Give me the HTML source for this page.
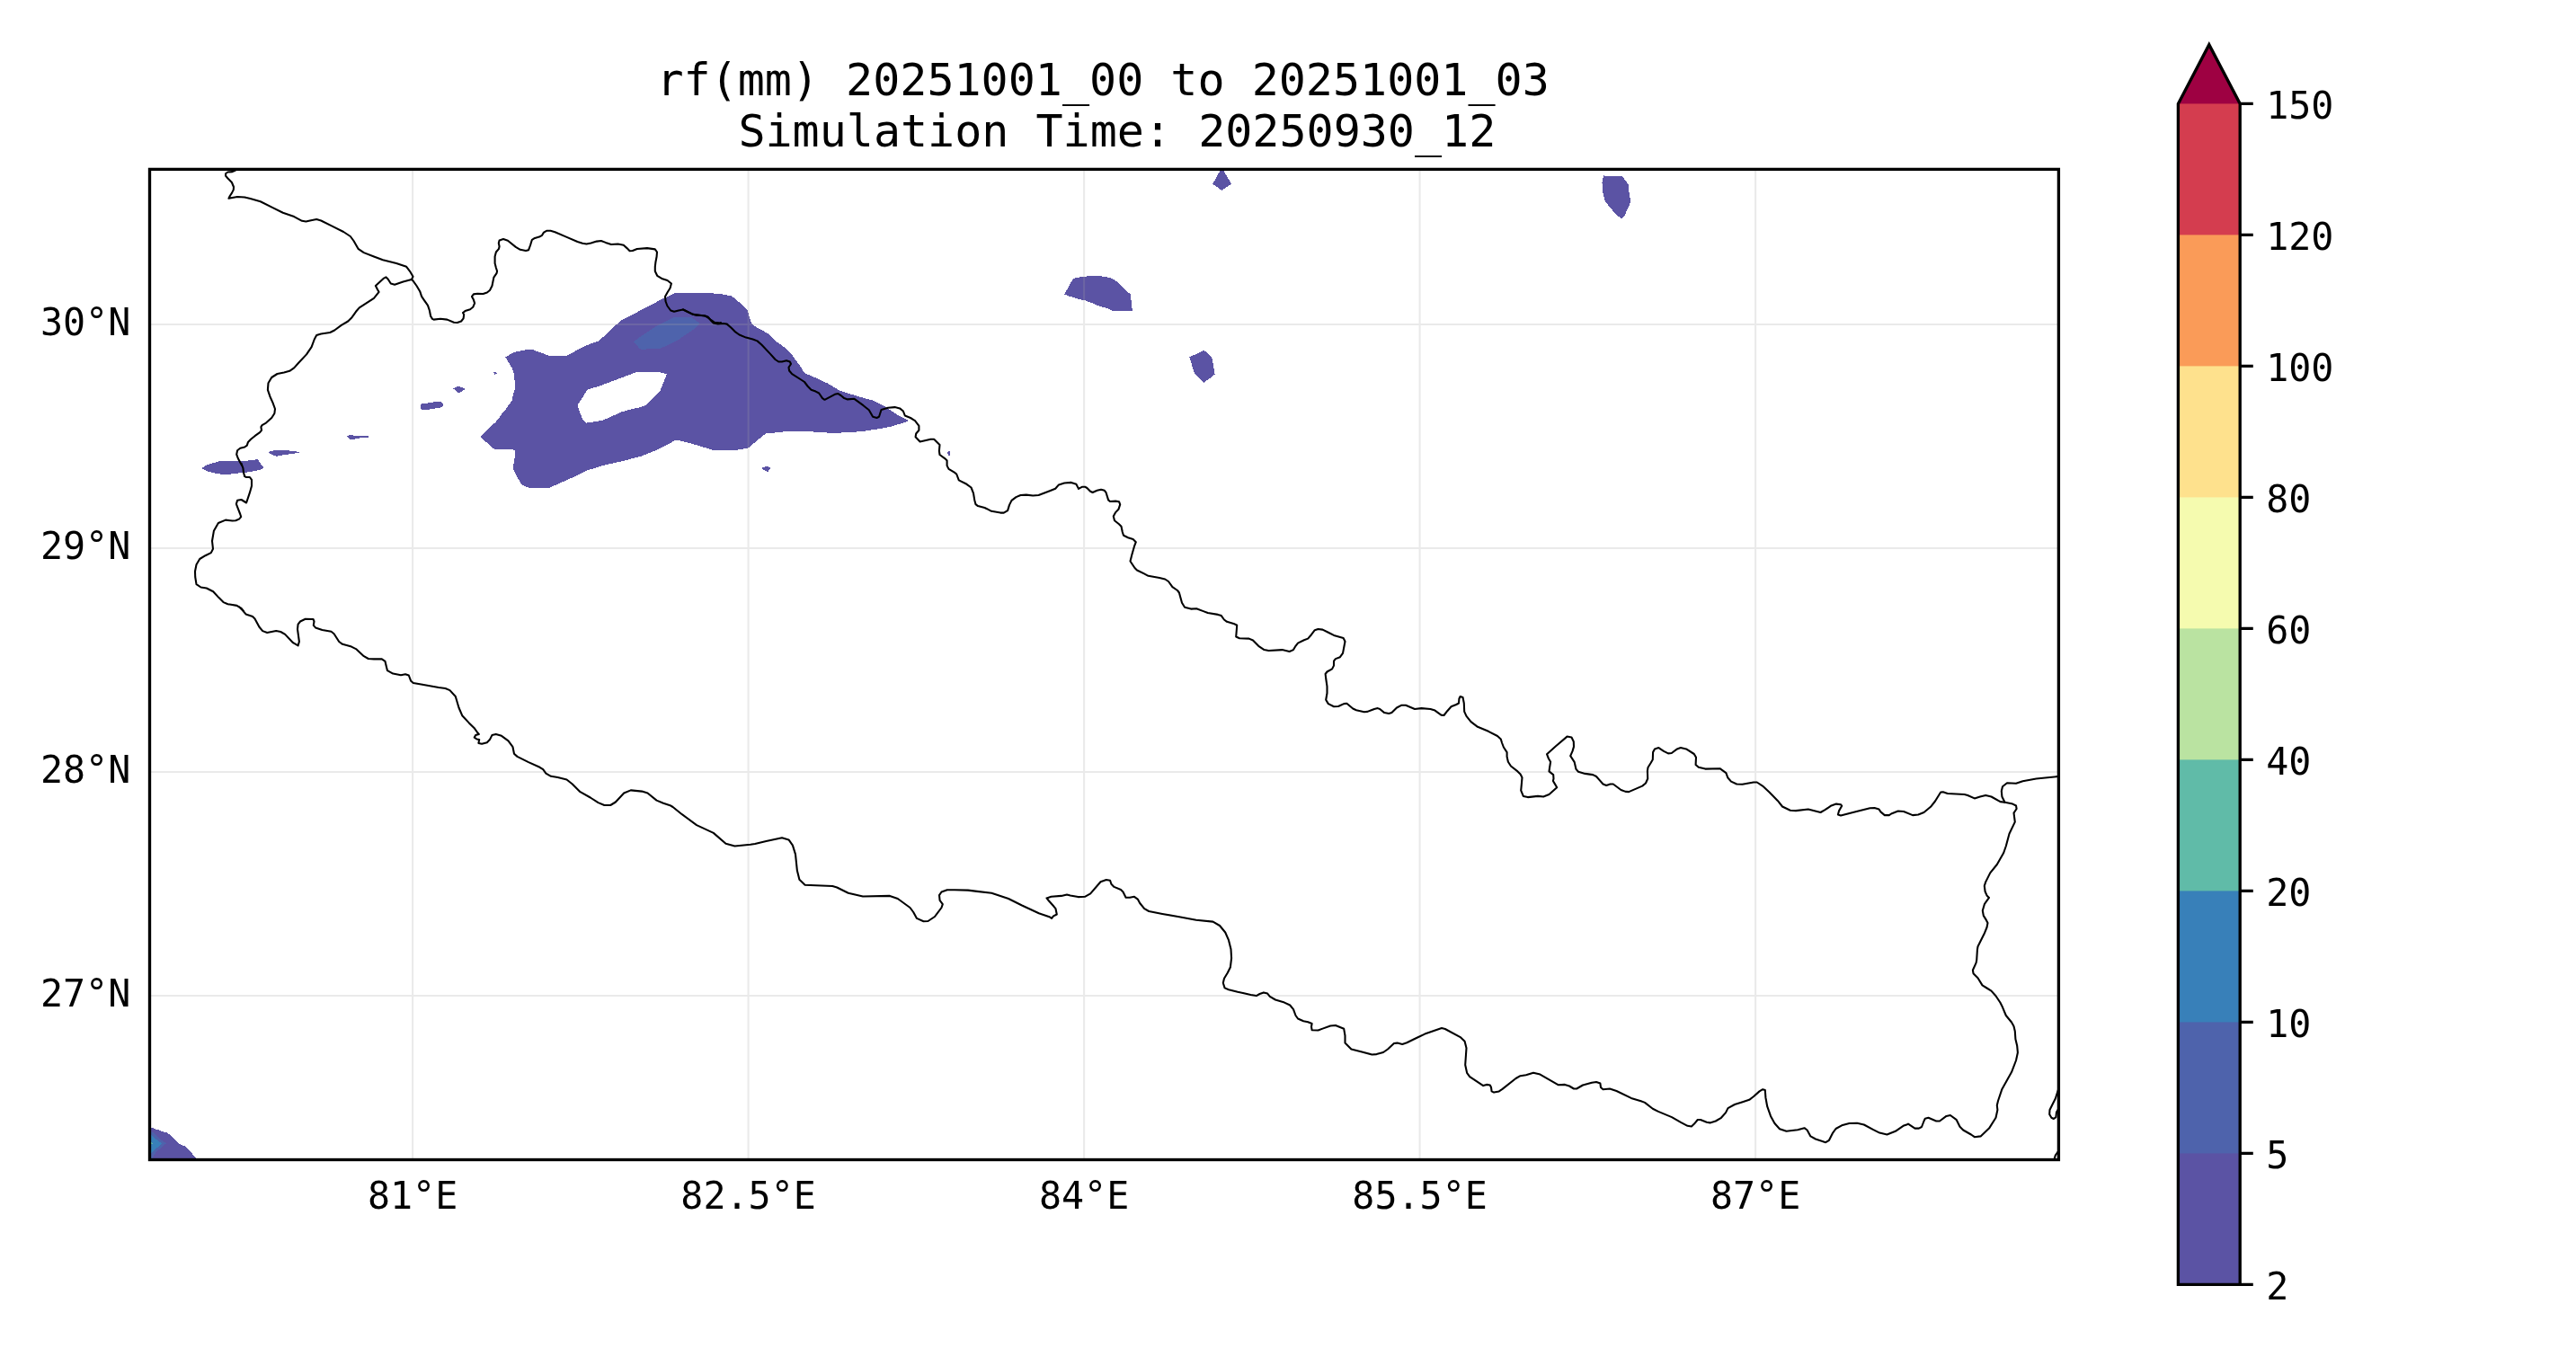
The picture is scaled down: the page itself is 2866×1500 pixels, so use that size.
<!DOCTYPE html>
<html><head><meta charset="utf-8"><title>rf(mm) 20251001_00 to 20251001_03</title><style>html,body{margin:0;padding:0;background:#fff;}svg{display:block;}</style></head><body>
<svg xmlns="http://www.w3.org/2000/svg" width="2866" height="1500" viewBox="0 0 2866 1500" style="will-change:transform">
<rect width="100%" height="100%" fill="#fff"/>
<defs><clipPath id="ax"><rect x="166.5" y="188.4" width="2123.9" height="1102.1"/></clipPath></defs>
<g clip-path="url(#ax)">
<path d="M562.5 397.5 L571.2 392.2 L578.8 390.6 L585 389.4 L590 388.5 L592.5 389 L611.2 396 L631.2 395.6 L642.5 389.4 L652.5 384.4 L658.8 381.9 L666.2 379.4 L673.8 372.5 L685 361.9 L692.5 355.6 L703.8 350 L736.2 333 L751.2 326.1 L788.8 326.1 L802.5 327.2 L810 328.8 L813.8 329.4 L817.5 331.9 L825 338.8 L831.2 344.4 L833.8 352.5 L836.2 360 L840 363.1 L851.2 369.4 L856.2 372.5 L863.8 380 L875 388.1 L881.2 395 L886.2 401.9 L891.2 408.8 L895 415 L903.8 418.8 L920 426.2 L935 435 L955 441.2 L971.2 445.6 L985 452.5 L997.5 461.2 L1011.2 468.1 L1008 469.4 L1000.5 471.9 L990.5 474.8 L978 477.2 L959.2 480 L944.2 481.2 L926.8 481.9 L910.5 481 L899.2 480 L878 479.8 L852 482.5 L842.5 490 L832.5 498.5 L820 500.6 L792.5 500.6 L767.5 493.1 L755 490 L751.2 490 L732.5 500 L713.8 507.5 L692.5 513.1 L670 518.1 L652.5 523.8 L638.8 530.6 L626.2 536.2 L611.9 542.5 L588.1 542.5 L581.2 540 L579.4 537.5 L575 530 L571.2 521.9 L571.2 517.5 L572.5 510 L573.1 501.9 L570.6 499.8 L550 499.8 L540 491.2 L534.4 486 L541.2 478.8 L551.2 470 L555 465.6 L558.8 460 L562.5 455.6 L567.5 448.8 L570 445 L570.6 440 L573.1 432.5 L572.5 422.5 L571.9 416.2 L570 410 L566.2 403.8 Z M652.5 435 L653.8 433.5 L667.5 429.4 L677.5 425.6 L692.5 420 L708.8 413.8 L732.5 413.8 L741.9 416.2 L737.5 427.5 L733.8 436.2 L727.5 442.5 L718.8 450.6 L712.5 453.1 L701.2 455.6 L691.2 458.5 L671.2 467.5 L657.5 470 L652.5 470.6 L648.1 466.9 L642.5 451.2 L643.8 448.8 L648.8 441.2 Z" fill="#5b53a4" fill-rule="evenodd" shape-rendering="crispEdges"/>
<path d="M705 380 L713.8 373.8 L728.8 363.8 L738.8 358.8 L750 353.1 L770 353.5 L778.8 360 L772.5 366.2 L762.5 372.5 L753.8 378.8 L741.2 385 L735 387.5 L713.8 388.8 L711.2 387.5 Z" fill="#4e63ac" fill-rule="evenodd" shape-rendering="crispEdges"/>
<path d="M549.4 414.4 L551.2 414 L553.1 415.2 L550.6 416.9 Z" fill="#5b53a4" fill-rule="evenodd" shape-rendering="crispEdges"/>
<path d="M504.4 432.5 L508.8 430.2 L512.5 430.6 L518.1 432.8 L510.6 437.5 Z" fill="#5b53a4" fill-rule="evenodd" shape-rendering="crispEdges"/>
<path d="M385.4 485 L389.8 484 L396 485 L409.8 485.2 L409.8 486.5 L399.8 487.5 L389.8 489.4 Z" fill="#5b53a4" fill-rule="evenodd" shape-rendering="crispEdges"/>
<path d="M298.5 502.8 L304.8 501.2 L319.8 501.2 L334.8 503.1 L331 504 L316 506.2 L307.2 507.8 L301 505 Z" fill="#5b53a4" fill-rule="evenodd" shape-rendering="crispEdges"/>
<path d="M229.8 517.5 L238.5 514.8 L247.2 512.5 L263.5 513.1 L272.2 513.1 L278.5 512.2 L286.6 511.2 L293.5 520.8 L289.8 522.6 L278.5 525.1 L266 526.4 L256 527.6 L246 527.6 L239.8 526.8 L231 524.5 L224.1 521 Z" fill="#5b53a4" fill-rule="evenodd" shape-rendering="crispEdges"/>
<path d="M1055 502 L1057 502 L1057 507 L1055 507 L1055 505 L1054 505 L1054 503 L1055 503 Z" fill="#5b53a4" fill-rule="evenodd" shape-rendering="crispEdges"/>
<path d="M1359.4 186.6 L1349.1 204.8 L1359.4 211.8 L1370.1 204.8 Z" fill="#5b53a4" fill-rule="evenodd" shape-rendering="crispEdges"/>
<path d="M1184.1 327.5 L1188.8 319.4 L1193.4 310.9 L1196.2 309.4 L1201.2 308.4 L1206.9 307.8 L1214.4 306.6 L1221.2 306.6 L1226.2 307.5 L1231.9 308.4 L1236.9 309.7 L1241.9 312.8 L1248.1 319.1 L1253.1 324.1 L1257.5 327.2 L1258.1 333.8 L1258.8 334.4 L1259.4 341.2 L1259.7 345.6 L1237.5 345.6 L1232.5 343.4 L1223.1 340.6 L1215.6 337.5 L1207.5 334.4 L1201.2 333.1 L1195 331.2 L1188.1 329.1 Z" fill="#5b53a4" fill-rule="evenodd" shape-rendering="crispEdges"/>
<path d="M1323.1 397.5 L1325.2 396.4 L1327.4 395.4 L1330.2 394.3 L1332.4 393.2 L1334.3 392.3 L1336.2 391.3 L1339 390.1 L1341.5 391.2 L1344.7 394.5 L1348.4 398.2 L1348.9 402 L1350 406.1 L1350.6 411.1 L1351.6 416.6 L1346.2 420.8 L1340.9 424.5 L1339.5 425.6 L1329.2 415.4 L1328 412.6 L1327 409.4 L1326.1 406.3 L1325.2 402.8 L1324.2 400 Z" fill="#5b53a4" fill-rule="evenodd" shape-rendering="crispEdges"/>
<path d="M1784.3 195.1 L1785.9 196 L1804.4 196 L1806.7 198.6 L1809.5 202.1 L1811.9 205.6 L1812.1 211.2 L1813 216.4 L1813.7 221.5 L1814.7 222.9 L1813.5 225.7 L1811.9 230.4 L1809.5 235.5 L1807.2 240.4 L1805.3 242.5 L1803.5 242.5 L1800.2 240.7 L1796 236.5 L1792.7 232.3 L1789 228.1 L1785.7 223.4 L1784.3 218.7 L1783.4 214 L1783.1 208 L1782.4 203.3 L1783.4 198.1 Z" fill="#5b53a4" fill-rule="evenodd" shape-rendering="crispEdges"/>
<path d="M468.2 450.6 L469.3 449.3 L476.3 448.5 L483.3 447.3 L490.5 447.3 L491.9 448.5 L492.8 449.6 L492.8 451.5 L491.7 452.6 L489.6 453.5 L485.6 454.3 L479.6 455.2 L474.4 456.4 L469.3 456.5 L468.3 454.5 Z" fill="#5b53a4" fill-rule="evenodd" shape-rendering="crispEdges"/>
<path d="M848.1 520.4 L851.2 519.3 L854.6 519.3 L856.8 520.5 L856.7 521.8 L855.5 522.7 L854.6 524.6 L853.4 524.6 L851.7 523.6 L849.5 522.6 L848.1 521.7 Z" fill="#5b53a4" fill-rule="evenodd" shape-rendering="crispEdges"/>
<path d="M160 1255.1 L168 1255.1 L170.6 1255.3 L173.5 1256.5 L176.7 1257.5 L179.6 1258.6 L182.8 1259.6 L185.7 1260.4 L188.6 1262.2 L191.8 1265.3 L195.5 1269.2 L199.6 1273 L202.8 1274.3 L205.7 1275.5 L209 1278.8 L212.6 1282.4 L215.1 1285.3 L217.9 1288.8 L221.2 1293 L160 1293 Z" fill="#5b53a4" fill-rule="evenodd" shape-rendering="crispEdges"/>
<path d="M160 1258.4 L168 1258.4 L173.5 1262.8 L179.6 1268.6 L184.9 1272.2 L179.6 1276.7 L173.5 1282 L169.4 1288.8 L168.2 1293 L160 1293 Z" fill="#4e63ac" fill-rule="evenodd" shape-rendering="crispEdges"/>
<path d="M160 1262.8 L168 1262.8 L173.5 1267.7 L180 1272.4 L173.5 1278.4 L168 1283.9 L160 1283.9 Z" fill="#3880b9" fill-rule="evenodd" shape-rendering="crispEdges"/>
<path d="M160 1271 L168 1271 L169.8 1272.4 L168 1273.9 L160 1273.9 Z" fill="#60bba8" fill-rule="evenodd" shape-rendering="crispEdges"/>
</g>
<path d="M459.1 188.4 V1290.5 M832.6 188.4 V1290.5 M1206.1 188.4 V1290.5 M1579.6 188.4 V1290.5 M1953.1 188.4 V1290.5 M166.5 1108 H2290.4 M166.5 859 H2290.4 M166.5 610 H2290.4 M166.5 361 H2290.4" stroke="#a6a6a6" stroke-opacity="0.23" stroke-width="2.08" fill="none"/>
<g clip-path="url(#ax)" fill="none" stroke="#000" stroke-width="2.08" stroke-linejoin="round" stroke-linecap="round">
<path d="M261.6 189 L261.6 189.9 L258.5 191.1 L253.5 191.5 L251.2 193 L251 195.5 L253.5 198.6 L257.9 203 L260 208 L259.8 211.1 L257.9 214.9 L255.8 218 L254.5 220.8 L258.5 220 L264.1 219 L272.2 219.5 L278.5 221.1 L289.8 224.2 L303.5 231.1 L314.8 236.8 L327.2 241.1 L336 245.8 L340.4 246.5 L346 245.2 L352.2 244 L357.2 245.5 L368.5 251.1 L382.2 258 L389.8 263 L393.5 268 L398.5 276.8 L404.8 281.1 L416 285.5 L426 289.2 L441 293 L452.2 296.8 L456 301.8 L459.5 307.8 L457.9 311.1"/>
<path d="M457.9 311.1 L459.1 311.8 L463.5 318 L467.2 324.2 L469.1 329.9 L471.6 333.6 L476 339.9 L477.9 345.5 L479.1 351.8 L481 354.9 L482.5 355.6 L490 354.8 L497.5 355.6 L505 358.8 L508.8 359 L513.1 357.5 L515.6 354.4 L516.2 350 L515 348 L517.5 346.1 L523.1 344.2 L526.2 341.8 L528.1 337.4 L526.9 333.6 L525 329.9 L526.9 327.4 L531.2 326.8 L537.5 327 L541.9 325.5 L545 323 L547.5 318 L548.5 313 L549.4 308.6 L552.5 304.2 L553.1 301.8 L551.9 298 L550.6 293 L550.6 285.5 L551.9 280.5 L555 276.8 L555.6 274.2 L554.8 270.5 L555.6 267.4 L560 266.1 L565 267.8 L573.8 274.9 L578.8 277.8 L585 279 L588.1 278.2 L590 273 L591.9 266.8 L595 264.9 L600 263.6 L603.1 261.8 L605 258.6 L608.1 256.8 L612.5 256.8 L617.5 258.2 L630 263.6 L642.5 269 L648.1 270.8 L652.5 271.5 L657.5 270.5 L663.8 268.6 L668.8 268 L673.8 269.9 L680 272 L687.5 271.5 L693.8 272.8 L697.5 276.1 L700.6 279.2 L703.8 279 L708.8 277 L720 276.1 L728.8 277.4 L731 280.5 L730.6 285.5 L729.4 291.8 L728.8 296.8 L728.8 301.8 L731.2 306.8 L736.2 309.9 L742.5 312 L746.9 315.5 L745.6 320.5 L742.5 325.5 L740 329.9 L740.6 335.5 L742.5 340.5 L746.2 345.5 L750 346.8 L755 345.5 L760 344.5 L765 347 L771.2 349.9 L777.5 350.5 L785 351.8 L788.8 354.2 L791.2 356.2 L795 358.8 L800 359.4 L802 359"/>
<path d="M457.9 311.1 L448.5 313.6 L439.1 316.8 L434.8 315.5 L431.6 310.5 L429.5 308.4 L426.6 309.9 L417.9 318 L419.8 321.8 L421.6 324.9 L416 331.8 L399.8 342.4 L396 346.8 L391 353.8 L387.2 357.5 L379.8 361.9 L372.2 367.5 L367.2 370 L357.2 371.5 L352.2 373.1 L349.8 377.5 L346.6 386.2 L341 394.4 L332.2 403.8 L327.2 409.4 L322.2 412.8 L316 414.4 L308.5 416 L302.2 420 L298.5 426.2 L297.9 433.8 L300.4 441.2 L303.5 448.1 L306 455 L305.4 460 L302.2 465 L296 470.6 L291.6 473.1 L290.4 475 L291 478.8 L289.1 481.2 L283.5 485.2 L279.1 488.8 L276 491.9 L274.8 495.6 L272.2 497.5 L267.2 498.8 L264.1 501.2 L263.2 505.6 L264.8 510 L267.2 514.4 L269.1 518 L268.5 515.8 L270.4 520.8 L271 525.8 L272.2 530.1 L274.1 531 L277.9 531 L280 533.9 L280 540.8 L277.9 548.2 L274.1 559.5 L268.5 556 L264.1 556.8 L262.9 560.8 L264.8 565.8 L267.2 572 L268.2 575.1 L266 577.6 L262.2 579.2 L258.5 579.5 L251 578.6 L242.9 582 L237.9 590.8 L236 602 L237 610.8 L234.8 615.1 L228.5 618.2 L222.2 622 L218.5 628.2 L217 635.8 L217.2 642 L218.5 650.1 L223.5 653.5 L229.8 654.5 L237.2 658.2 L243.5 665.1 L248.5 670.1 L253.5 672.2 L263.5 673.9 L268.5 677 L271 680 L266 675.2 L269.8 679 L273.5 683.4 L281 685.9 L283.5 688.4 L288.5 697.8 L292.2 702.1 L297.2 704 L307.2 702.1 L312.2 703 L317.2 705.9 L326 715.2 L331.6 718.4 L332.9 714 L331 700.2 L331.6 694.6 L334.1 691.5 L339.8 688.8 L348.5 689 L349.5 691.5 L348.8 695.9 L351 698.4 L358.5 700.9 L368.5 702.8 L371.6 705.2 L377.2 714 L381 716.8 L391 719.6 L396 722.1 L404.8 730.2 L409.8 733 L416 733.4 L424.8 733.4 L428.5 735.9 L429.8 741.5 L431 746.2 L437.2 749.6 L446 751.2 L451 750.2 L454.8 751.5 L457.2 757.8 L459.8 760 L468.5 761.5 L488 765 L495.5 766 L500.5 768.1 L506.8 775 L510.5 787.5 L514.2 796.2 L521.8 804.4 L528 810.6 L531.1 815 L532.8 816.9 L529.2 818.1 L527.8 820.6 L530.5 822.5 L533.2 823.1 L532.4 826.9 L536.1 827.8 L541.8 826.2 L544.9 823.1 L547.4 818.1 L551.8 816.9 L558 818.8 L565.5 824.4 L570.5 831.2 L572 838.8 L575.5 841.9 L588 848.1 L600.5 853.8 L604.2 856.2 L607.4 860.6 L613 863.8 L620.5 865 L630.5 867.5 L636.8 872.5 L645.5 881.2 L656.8 887.5 L665.5 893.1 L672.4 896 L679.2 896 L684.9 892.5 L694.2 882.5 L701.8 879.4 L714.2 880.6 L720.5 882.5 L730.5 890.6 L738 893.8 L745.5 896.2 L748.6 898 L758.8 906.2 L775 918.1 L793.8 926.9 L807.5 938.8 L817.5 941.5 L835 939.8 L840 939 L852.5 936 L870 932.2 L877.5 934.4 L881.9 940.6 L885 950.6 L886.9 968.8 L889.4 978.8 L895.6 984.8 L926.2 986 L931.2 987.5 L943.8 993.8 L960 997.5 L990 996.9 L998.8 1000 L1012.5 1010 L1016.2 1015 L1020 1021.9 L1027.5 1025.2 L1032.5 1025 L1040 1020 L1047.5 1010 L1048.8 1006.2 L1045.6 1001.9 L1045 996.2 L1047.5 992.5 L1053.8 990.2 L1062 990.2 L1077 990.6 L1087 991.9 L1103.2 993.8 L1122 1000 L1137 1007.5 L1155.8 1016.2 L1168.2 1020.6 L1170.1 1021.9 L1172 1019.4 L1175.8 1017.5 L1174.5 1011.2 L1172.6 1008.8 L1167 1002.5 L1164.5 999.4 L1169.5 997.8 L1180.8 996.9 L1187 995.6 L1190.8 996.5 L1199.5 998.1 L1207 997.8 L1213.2 994.4 L1224.5 981.2 L1230.8 979 L1235.1 979.8 L1236.4 983.8 L1239.5 986.9 L1247 990 L1249.5 992.5 L1252.6 998.8 L1257 998.8 L1262 997.8 L1265.8 1000.6 L1268.2 1005 L1273.2 1011.2 L1278.2 1014 L1293.2 1016.9 L1312 1020.2 L1330.8 1023.8 L1349.5 1025.6 L1357 1030 L1363.2 1037.5 L1367 1046.2 L1369.5 1056.2 L1370.1 1066.2 L1368.9 1076.2 L1365.8 1082.5 L1362 1088.8 L1360.8 1093.8 L1362.6 1099.4 L1367 1101.2 L1377 1103.8 L1384 1105.2 L1391.5 1106.9 L1397.8 1108.1 L1401.5 1106 L1405.9 1104.4 L1410.2 1105.6 L1412.8 1108.8 L1419 1112.5 L1429 1115.6 L1435.2 1118.5 L1439 1123.1 L1441.5 1130 L1444 1133.5 L1450.2 1136.2 L1455.2 1137.2 L1459.6 1139 L1459 1142.5 L1459.6 1146.2 L1466.5 1146.5 L1471.5 1144.6 L1480.2 1141.5 L1485.9 1141 L1495.2 1144.8 L1496.5 1152.5 L1496.5 1160.6 L1503.4 1167.5 L1515.2 1170.6 L1526.5 1173.5 L1531.5 1173.1 L1539 1171 L1544 1167.5 L1550.9 1161 L1554.6 1160.6 L1560.2 1161.9 L1565.2 1160.2 L1576.5 1154.8 L1585.2 1150.6 L1604 1144 L1607.8 1145 L1625.2 1154.4 L1629.6 1158.8 L1631.5 1166.2 L1630.2 1185 L1632.1 1193.8 L1635.2 1198.1 L1650.2 1208.1 L1654 1206.9 L1657.8 1207.5 L1659 1210 L1659.6 1214.4 L1662.1 1215.6 L1667.8 1214.4 L1671.5 1211.9 L1686.5 1200 L1691.5 1197.2 L1697.8 1196.2 L1706 1193.8 L1713.5 1195.6 L1722.2 1200.6 L1733.5 1207.2 L1741 1206.9 L1746 1208.5 L1751 1211.5 L1754.1 1211.5 L1761 1207.5 L1771 1204.8 L1776 1204 L1780.4 1205.6 L1781 1210 L1783.5 1212.2 L1791 1211.5 L1798.5 1214 L1814.8 1221.9 L1824.8 1225 L1825 1225 L1830 1226.9 L1838.8 1233.8 L1845 1236.9 L1860 1243.1 L1870 1248.8 L1877.5 1252.8 L1881.9 1253.5 L1885 1250.6 L1888.8 1246 L1891.9 1246 L1898.8 1248.8 L1902.5 1249.4 L1908.8 1247.5 L1915 1243.8 L1920 1238.1 L1922.5 1233.1 L1930 1229 L1938.8 1226.2 L1946.2 1223.8 L1951.2 1220 L1957.5 1214.4 L1961.2 1212.2 L1963.8 1213.1 L1964.4 1221.2 L1966.2 1231.2 L1970 1241.9 L1974.4 1250 L1980 1256.2 L1987.5 1258.8 L2000 1257.2 L2007.5 1255.2 L2010.6 1257.5 L2014.4 1264.4 L2020 1267.5 L2031.2 1271.2 L2035 1268.8 L2038.8 1261.2 L2042.5 1256 L2050 1251.9 L2057.5 1250 L2066.2 1249.8 L2073.8 1251.5 L2083.8 1256.9 L2091.2 1260.6 L2099.4 1262.5 L2108.8 1258.8 L2117.5 1252.8 L2122 1251.2 L2123 1250.6 L2130.5 1255.6 L2134.9 1255.6 L2138 1254 L2140.5 1247.5 L2141.8 1244.8 L2145.5 1243.8 L2154.2 1247.5 L2158 1247.5 L2165.5 1241.9 L2169.9 1241 L2176.8 1246.2 L2180.5 1253.8 L2184.2 1257.5 L2193 1262.5 L2196.8 1265.2 L2203.6 1264.4 L2213 1255.6 L2220.5 1243.8 L2222.4 1235 L2221.8 1230 L2223 1225 L2227.4 1211.9 L2238 1193.1 L2243 1180 L2244.9 1171.2 L2244.2 1163.8 L2242.4 1156.2 L2241.8 1147.5 L2240.5 1141.9 L2238 1137.5 L2231.8 1130 L2228 1120.8 L2225.5 1115.8 L2220.5 1108.2 L2215.5 1102.6 L2210.5 1099.5 L2205.5 1096.4 L2200.5 1088.2 L2195.5 1083.2 L2194.9 1079.5 L2198.6 1071.4 L2199.2 1068.2 L2199.9 1057 L2200.5 1053.2 L2208 1038.2 L2210.5 1032 L2211.5 1027 L2209.9 1023.9 L2206.8 1018.9 L2205.8 1013.2 L2208 1005.8 L2209.9 1003.2 L2213 998.9 L2210.5 996.4 L2208.6 992 L2207.8 985.8 L2209.2 981.4 L2214.2 971.4 L2221.8 962 L2229.2 949 L2231.8 941.5 L2235.5 927.8 L2241.8 914.6 L2240.5 904.6 L2243.6 900 L2243 896.5 L2239.2 894.6 L2230.5 892.8"/>
<path d="M2230.5 892.8 L2225.5 892.1 L2215.5 886.5 L2209.2 885 L2203 886.5 L2196.8 888.4 L2189.2 885 L2185.5 884 L2166.8 883 L2161.8 881.2 L2159.2 881.5 L2153 891.5 L2148 897.8 L2140.5 904 L2134.2 906.5 L2128 907.1 L2118 903 L2111.8 902.5 L2104.2 905.5 L2101.8 907.1 L2096.8 907.1 L2092.4 903.4 L2090.5 900.5 L2085.5 899 L2080.5 899.2 L2065.5 903 L2048 907.5 L2044.9 906.5 L2046.1 902.1 L2049.2 896.8 L2048 895.2 L2043 894.6 L2036.8 896.8 L2030.5 901.2 L2025.5 904 L2011.8 900.5 L1998 902.1 L1991.8 901.8 L1983 897.5 L1978 891.2 L1968.5 881.5 L1961 874.6 L1954.8 870.5 L1951 870.5 L1938.5 872.8 L1932.2 872.5 L1926 869.6 L1922.2 865.2 L1920.4 860.2 L1913.5 855.2 L1897.2 855.6 L1889.8 853.8 L1886.6 850.9 L1887 842.8 L1884.8 839 L1876 833.4 L1869.8 832.1 L1866 833.4 L1859.8 838 L1856 838.4 L1851 835.9 L1845.4 832.1 L1841 833.4 L1839.1 837.1 L1838.8 845.2 L1836.6 849 L1833.5 854 L1832.9 857.8 L1833.2 866.5 L1831 871.5 L1827.2 874.6 L1812.2 881.1 L1808.5 880.9 L1803.5 879 L1794.8 872.5 L1791.6 872.5 L1787.2 874 L1783.5 872.5 L1776 864 L1772.2 862.1 L1763.5 860.9 L1756 858.8 L1753.5 855.9 L1751.6 847.8 L1747.2 841.2 L1749.5 835.9 L1751 830.9 L1750.8 825.2 L1748.5 820.5 L1743.5 819.6 L1731 830.2 L1721 839.2 L1722.9 844 L1725.1 847.8 L1724.1 854 L1723.5 858.4 L1728.2 862.1 L1728.5 866.5 L1727.9 869 L1729.8 872.1 L1732.2 876.2 L1723.5 884 L1717.2 886.5 L1711 885.9 L1699.8 887.1 L1694.8 885.9 L1692.2 879.6 L1692.9 872.1 L1693.5 865.2 L1691.6 861.5 L1688.5 858.4 L1681 852.5 L1677.9 847.8 L1676.6 842.1 L1676.6 837.1 L1672.9 831.5 L1671 826.5 L1669.8 822.5 L1666 819 L1656 813.8 L1644 808.8 L1636.5 803.1 L1631.5 796.9 L1629.2 791.9 L1628.8 782.5 L1627.5 776 L1624.6 775 L1623.4 777.5 L1623 782.5 L1620.2 784 L1614.6 786.2 L1610.2 791.2 L1606.5 796 L1603.4 795.6 L1596.5 790.6 L1591.5 789 L1581.5 788.1 L1574 789 L1564 784.8 L1559 784.8 L1554 787.5 L1548.4 793.1 L1545.2 794 L1540.2 793.1 L1535.2 789 L1532.8 788.1 L1529 789 L1521.5 791.9 L1517.8 792.2 L1509 790.2 L1505.2 788.5 L1498.4 782.8 L1495.2 783.1 L1489 786 L1484 786.2 L1477.8 783.1 L1475.2 778.8 L1476.5 771.2 L1476.5 763.8 L1475.2 755 L1474.6 750 L1476.5 747.5 L1482.1 744.4 L1484 740.6 L1484 735.6 L1485.9 733.1 L1490.9 731.2 L1494 726.9 L1496.5 713.8 L1494.6 710 L1484 706.9 L1477.8 703.8 L1471.5 700.6 L1466.5 700 L1462.8 701.2 L1459 706.2 L1455.2 710.6 L1450.9 712.2 L1444 715.6 L1441.5 718.8 L1439 723.1 L1434.6 725 L1426.5 723.1 L1411.5 724 L1406.5 723.1 L1400.2 718.8 L1394 712.5 L1389.6 710.6 L1379 710.2 L1375.2 708.5 L1375.9 700 L1376.2 695.8 L1372.5 693.9 L1365 691.8 L1361.9 689.5 L1358.8 685.1 L1355 683.9 L1343.8 682 L1338.8 680.1 L1331.2 677.2 L1325 677.6 L1318.1 675.8 L1315 670.8 L1311.9 659.5 L1310 657 L1304.4 653.2 L1300 647 L1296.2 644.5 L1290 643 L1277.5 640.8 L1272.5 638.2 L1265 634.5 L1262.5 632 L1257.5 624.5 L1259.4 617 L1261.9 608.2 L1263.8 603.2 L1260.6 600.1 L1255 598.2 L1250 595.8 L1248.8 592 L1247.5 585.8 L1245 583.2 L1240 579.2 L1238.8 574.5 L1241.2 570.1 L1244.4 566.8 L1246.2 561.4 L1245 558.2 L1241.2 557.6 L1235 558 L1233.1 556.4 L1230.6 548.2 L1228.8 545.8 L1225 544.8 L1220.6 545.8 L1215.6 548 L1213.1 546.8 L1209.4 543 L1207.5 541.8 L1203.8 541.8 L1200 543.9 L1197.4 538.8 L1191.8 536.9 L1184.2 537.5 L1178 539.4 L1174.2 543.8 L1168 546.2 L1155.5 551 L1149.2 551.5 L1141.8 550.6 L1135.5 551 L1130.5 553.1 L1125.5 556.9 L1123 561.9 L1121.1 568.1 L1116.8 570.6 L1113 570.6 L1103 568.8 L1098 566.2 L1095.5 565 L1088 563.1 L1085.5 561.2 L1084.2 556.2 L1083 548.8 L1080.5 542.5 L1075.5 538.8 L1066.8 534.4 L1064.2 527.5 L1061.8 525.6 L1055.5 521.9 L1053.6 518.1 L1053.6 512.5 L1051.8 510.6 L1045.5 506 L1044.9 501.9 L1045.5 495 L1039.2 488.8 L1035.5 488.8 L1023.6 491.5 L1018.6 486.2 L1019.2 482.5 L1022.4 478.8 L1022.4 473.8 L1018 468.1 L1013 465 L1006.8 462.5 L1004.9 457.5 L1001.1 454.4 L995.5 453.1 L988 453.8 L980.5 456 L978 463.8 L975.5 465 L971.1 463.8 L966.8 456.2 L960.5 451.2 L950.5 443.8 L943 444.4 L939.2 443.1 L935.5 440 L932.5 438.1 L928.8 438.8 L917.5 444.8 L915 443.1 L911.2 437.5 L907.5 435.6 L902.5 433.8 L898.8 430 L895 425 L891.2 422.5 L881.2 416.2 L878.1 412.5 L877.5 408.8 L880 405 L878.8 402.5 L875 401.2 L870 402.5 L866.2 402.5 L862.5 400 L857.5 394.4 L847.5 383.8 L842.5 379.4 L837.5 377.5 L830 375.6 L822.5 372.5 L817.5 368.8 L813.8 365 L808.8 360.6 L805 360 L798.8 360.4 L793.8 359.4 L790.6 356.2 L787.5 352.5 L783.8 351.2 L778.8 351 L773.8 350.6 L770 349.4 L760 344.4"/>
<path d="M2230.5 892.8 L2227.4 886.5 L2226.8 880.2 L2228 875.2 L2233 871.2 L2243 871.8 L2250.5 869.2 L2265.5 866.5 L2290 864"/>
<path d="M2290 1212.5 L2286.8 1222.5 L2283 1230 L2280.5 1235 L2280.2 1240 L2282.4 1243.8 L2284.9 1245 L2287.4 1243.1 L2288 1237.5 L2290 1234.4"/>
<path d="M2285.5 1290 L2286.8 1285.6 L2290 1281.2"/>
</g>
<rect x="166.5" y="188.4" width="2123.9" height="1102.1" fill="none" stroke="#000" stroke-width="3.33"/>
<text transform="translate(459.1 1345) scale(1 1.033)" text-anchor="middle" font-family="DejaVu Sans Mono" font-size="41.67">81°E</text>
<text transform="translate(832.6 1345) scale(1 1.033)" text-anchor="middle" font-family="DejaVu Sans Mono" font-size="41.67">82.5°E</text>
<text transform="translate(1206.1 1345) scale(1 1.033)" text-anchor="middle" font-family="DejaVu Sans Mono" font-size="41.67">84°E</text>
<text transform="translate(1579.6 1345) scale(1 1.033)" text-anchor="middle" font-family="DejaVu Sans Mono" font-size="41.67">85.5°E</text>
<text transform="translate(1953.1 1345) scale(1 1.033)" text-anchor="middle" font-family="DejaVu Sans Mono" font-size="41.67">87°E</text>
<text transform="translate(145.3 1120) scale(1 1.033)" text-anchor="end" font-family="DejaVu Sans Mono" font-size="41.67">27°N</text>
<text transform="translate(145.3 871) scale(1 1.033)" text-anchor="end" font-family="DejaVu Sans Mono" font-size="41.67">28°N</text>
<text transform="translate(145.3 622) scale(1 1.033)" text-anchor="end" font-family="DejaVu Sans Mono" font-size="41.67">29°N</text>
<text transform="translate(145.3 373) scale(1 1.033)" text-anchor="end" font-family="DejaVu Sans Mono" font-size="41.67">30°N</text>
<text x="730.4" y="106.3" font-family="DejaVu Sans Mono" font-size="50">rf(mm) 20251001_00 to 20251001_03</text>
<text x="821.4" y="162.8" font-family="DejaVu Sans Mono" font-size="50">Simulation Time: 20250930_12</text>
<path d="M2423.4 116.4 L2423.4 115.4 L2457.8 49.7 L2492.2 115.4 L2492.2 116.4 Z" fill="#9e0142"/>
<rect x="2423.4" y="115.4" width="68.8" height="147" fill="#d43d4f"/>
<rect x="2423.4" y="261.4" width="68.8" height="147" fill="#fa9b58"/>
<rect x="2423.4" y="407.4" width="68.8" height="147" fill="#fee18d"/>
<rect x="2423.4" y="553.4" width="68.8" height="147" fill="#f5fbaf"/>
<rect x="2423.4" y="699.4" width="68.8" height="147" fill="#bae3a1"/>
<rect x="2423.4" y="845.4" width="68.8" height="147" fill="#60bba8"/>
<rect x="2423.4" y="991.4" width="68.8" height="147" fill="#3880b9"/>
<rect x="2423.4" y="1137.4" width="68.8" height="147" fill="#4e63ac"/>
<rect x="2423.4" y="1283.4" width="68.8" height="146" fill="#5b53a4"/>
<path d="M2423.4 115.4 L2457.8 49.7 L2492.2 115.4 L2492.2 1429.4 L2423.4 1429.4 Z" fill="none" stroke="#000" stroke-width="3.33" stroke-linejoin="miter"/>
<text transform="translate(2521.2 1445.6) scale(1 1.033)" font-family="DejaVu Sans Mono" font-size="41.67">2</text>
<text transform="translate(2521.2 1299.6) scale(1 1.033)" font-family="DejaVu Sans Mono" font-size="41.67">5</text>
<text transform="translate(2521.2 1153.6) scale(1 1.033)" font-family="DejaVu Sans Mono" font-size="41.67">10</text>
<text transform="translate(2521.2 1007.6) scale(1 1.033)" font-family="DejaVu Sans Mono" font-size="41.67">20</text>
<text transform="translate(2521.2 861.6) scale(1 1.033)" font-family="DejaVu Sans Mono" font-size="41.67">40</text>
<text transform="translate(2521.2 715.6) scale(1 1.033)" font-family="DejaVu Sans Mono" font-size="41.67">60</text>
<text transform="translate(2521.2 569.6) scale(1 1.033)" font-family="DejaVu Sans Mono" font-size="41.67">80</text>
<text transform="translate(2521.2 423.6) scale(1 1.033)" font-family="DejaVu Sans Mono" font-size="41.67">100</text>
<text transform="translate(2521.2 277.6) scale(1 1.033)" font-family="DejaVu Sans Mono" font-size="41.67">120</text>
<text transform="translate(2521.2 131.6) scale(1 1.033)" font-family="DejaVu Sans Mono" font-size="41.67">150</text>
<path d="M2492.2 1429.4 h14.58 M2492.2 1283.4 h14.58 M2492.2 1137.4 h14.58 M2492.2 991.4 h14.58 M2492.2 845.4 h14.58 M2492.2 699.4 h14.58 M2492.2 553.4 h14.58 M2492.2 407.4 h14.58 M2492.2 261.4 h14.58 M2492.2 115.4 h14.58" stroke="#000" stroke-width="3.33"/>
</svg>
</body></html>
